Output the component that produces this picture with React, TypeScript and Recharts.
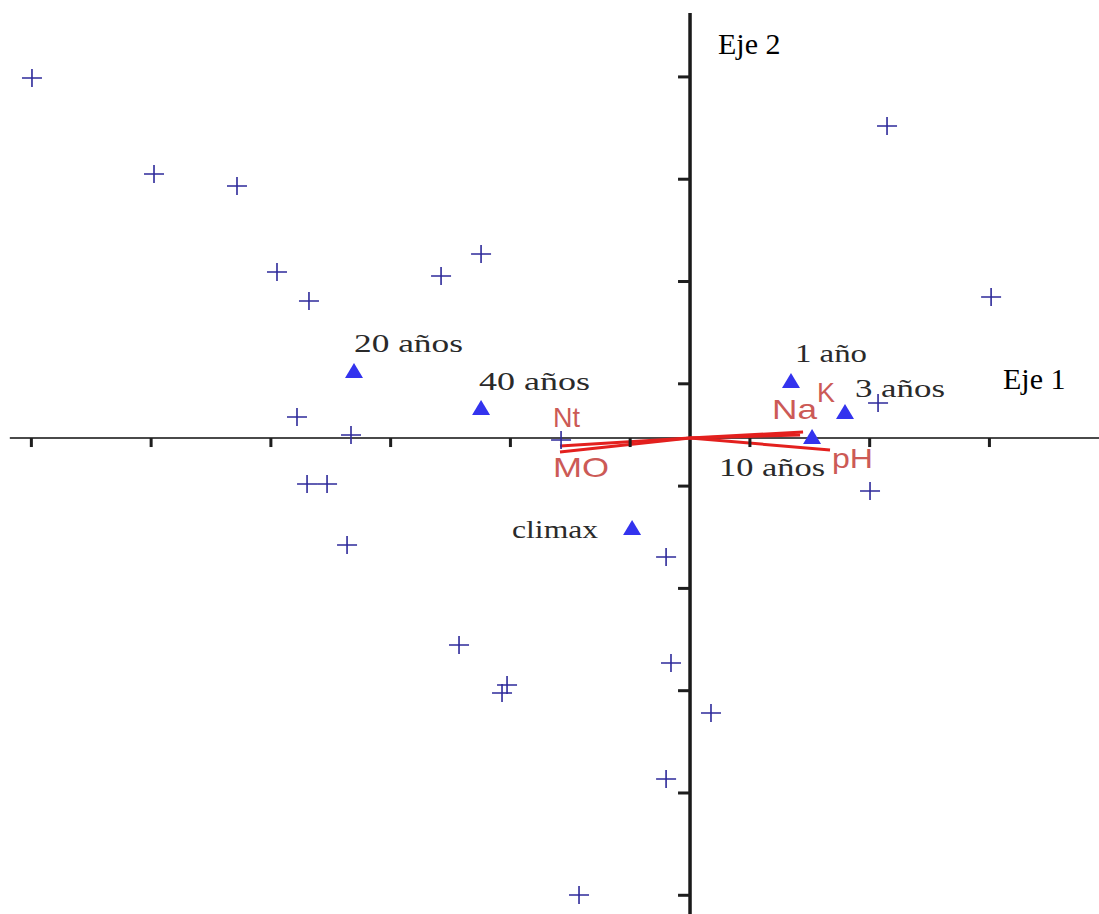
import React from 'react';
import { ScatterChart, Scatter, XAxis, YAxis, ReferenceLine } from 'recharts';

const W = 1099;
const H = 914;

// Species scores (crosses)
const speciesX = [-5.495, -4.476, -3.783, -3.449, -3.182, -2.079, -1.745, 1.645, 2.514, -3.282, -2.831, -3.198, -3.031, -2.864, -1.929, -1.528, -1.570, -0.200, -0.159, 0.175, -0.200, -0.927, 1.570, 1.503, -1.077];
const speciesY = [3.519, 2.581, 2.463, 1.623, 1.339, 1.584, 1.799, 3.050, 1.378, 0.205, 0.029, -0.450, -0.450, -1.046, -2.023, -2.414, -2.493, -1.163, -2.199, -2.688, -3.333, -4.467, 0.342, -0.518, -0.020];

// Site (age) scores (triangles)
const siteNames = ['20 años', '40 años', '1 año', '3 años', '10 años', 'climax'];
const siteX = [-2.806, -1.745, 0.843, 1.294, 1.019, -0.484];
const siteY = [0.645, 0.283, 0.547, 0.244, 0.0, -0.890];

// Environmental variables (vectors)
const varNames = ['Nt', 'MO', 'Na', 'K', 'pH'];
const varX = [-1.086, -1.086, 0.919, 0.944, 1.169];
const varY = [-0.078, -0.137, 0.029, 0.059, -0.117];

// Tick positions
const xTicks = [-5.5, -4.5, -3.5, -2.5, -1.5, -0.5, 0.5, 1.5, 2.5];
const yTicks = [3.53, 2.53, 1.53, 0.53, -0.47, -1.47, -2.47, -3.47, -4.47];

const axisTitles = ['Eje 1', 'Eje 2'];

const X_DOMAIN: [number, number] = [-5.762, 3.415];
const Y_DOMAIN: [number, number] = [-4.653, 4.282];

const speciesData = speciesX.map((x, i) => ({ x, y: speciesY[i] }));
const siteData = siteX.map((x, i) => ({ x, y: siteY[i], name: siteNames[i] }));
const varData = varX.map((x, i) => ({ x, y: varY[i], name: varNames[i] }));
const xTickData = xTicks.map((t) => ({ x: t, y: 0 }));
const yTickData = yTicks.map((t) => ({ x: 0, y: t }));
const originData = [{ x: 0, y: 0 }];

// label layout (style only)
const siteLabelStyle: Record<string, { dx: number; dy: number; len: number }> = {
  '20 años': { dx: 0, dy: -20, len: 109 },
  '40 años': { dx: -2, dy: -19, len: 111 },
  '1 año': { dx: 4, dy: -20, len: 72 },
  '3 años': { dx: 10, dy: -16, len: 90 },
  '10 años': { dx: -93, dy: 38, len: 106 },
  'climax': { dx: -120, dy: 9, len: 86 },
};
const varLabelStyle: Record<string, { dx: number; dy: number; len: number }> = {
  Nt: { dx: -7, dy: -19, len: 27 },
  MO: { dx: -7, dy: 25, len: 56 },
  Na: { dx: -28, dy: -16, len: 45 },
  K: { dx: 14, dy: -30, len: 18 },
  pH: { dx: 2, dy: 18, len: 41 },
};

const CrossShape = (props: any) => {
  const { cx, cy } = props;
  const a = 10;
  return (
    <path
      d={`M${cx - a},${cy}H${cx + a}M${cx},${cy - 9}V${cy + 9}`}
      stroke="#2e2a9a"
      strokeWidth={1.6}
      fill="none"
    />
  );
};

const TriangleShape = (props: any) => {
  const { cx, cy, payload } = props;
  const s = siteLabelStyle[payload.name];
  return (
    <g>
      <path d={`M${cx},${cy - 9}L${cx + 9},${cy + 6}L${cx - 9},${cy + 6}Z`} fill="#3333ee" />
      <text
        x={cx + s.dx}
        y={cy + s.dy}
        fontFamily="'Liberation Serif', 'Times New Roman', serif"
        fontSize={25}
        fill="#2a2a2a"
        textLength={s.len}
        lengthAdjust="spacingAndGlyphs"
      >
        {payload.name}
      </text>
    </g>
  );
};

const VarLabelShape = (props: any) => {
  const { cx, cy, payload } = props;
  const s = varLabelStyle[payload.name];
  return (
    <text
      x={cx + s.dx}
      y={cy + s.dy}
      fontFamily="'Liberation Sans', Arial, sans-serif"
      fontSize={28}
      fill="#cc5a56"
      textLength={s.len}
      lengthAdjust="spacingAndGlyphs"
    >
      {payload.name}
    </text>
  );
};

const XTickShape = (props: any) => {
  const { cx, cy } = props;
  return <rect x={cx - 1.5} y={cy} width={3} height={9} fill="#1e1e1e" />;
};

const YTickShape = (props: any) => {
  const { cx, cy } = props;
  return <rect x={cx - 12} y={cy - 1.5} width={12} height={3} fill="#1e1e1e" />;
};

const AxisTitleShape = (props: any) => {
  const { cx, cy } = props;
  const font = "'Liberation Serif', 'Times New Roman', serif";
  return (
    <g>
      <text x={cx + 313} y={cy - 49} fontFamily={font} fontSize={30} fill="#000">
        {axisTitles[0]}
      </text>
      <text x={cx + 28} y={cy - 384} fontFamily={font} fontSize={30} fill="#000">
        {axisTitles[1]}
      </text>
    </g>
  );
};

export default function App() {
  return (
    <div style={{ position: 'absolute', left: 0, top: 0, width: W, height: H, background: '#fff' }}>
      <ScatterChart width={W} height={H} margin={{ top: 0, right: 0, bottom: 0, left: 0 }}>
        <XAxis type="number" dataKey="x" domain={X_DOMAIN} hide allowDataOverflow />
        <YAxis type="number" dataKey="y" domain={Y_DOMAIN} hide allowDataOverflow />
        <ReferenceLine
          segment={[{ x: -5.68, y: 0 }, { x: X_DOMAIN[1], y: 0 }]}
          stroke="#4a4a4a"
          strokeWidth={2}
          ifOverflow="visible"
        />
        <ReferenceLine
          segment={[{ x: 0, y: 4.154 }, { x: 0, y: Y_DOMAIN[0] }]}
          stroke="#1a1a1a"
          strokeWidth={3.5}
          ifOverflow="visible"
        />
        <Scatter data={xTickData} shape={XTickShape} isAnimationActive={false} />
        <Scatter data={yTickData} shape={YTickShape} isAnimationActive={false} />
        {varData.map((v) => (
          <ReferenceLine
            key={v.name}
            segment={[{ x: 0, y: 0 }, { x: v.x, y: v.y }]}
            stroke="#e3201e"
            strokeWidth={3}
            ifOverflow="visible"
          />
        ))}
        <Scatter data={speciesData} shape={CrossShape} isAnimationActive={false} />
        <Scatter data={siteData} shape={TriangleShape} isAnimationActive={false} />
        <Scatter data={varData} shape={VarLabelShape} isAnimationActive={false} />
        <Scatter data={originData} shape={AxisTitleShape} isAnimationActive={false} />
      </ScatterChart>
    </div>
  );
}
